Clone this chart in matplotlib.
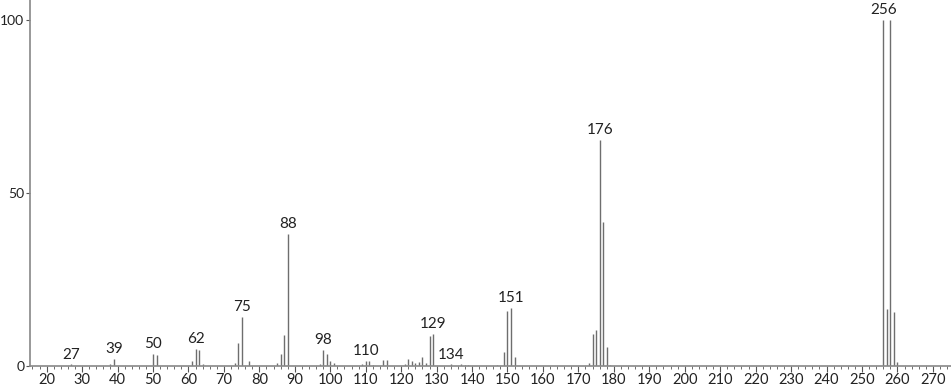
import numpy as np
import matplotlib
matplotlib.use('Agg')
import matplotlib.pyplot as plt
from matplotlib.ticker import MultipleLocator

# m/z and relative intensity
mz = [27, 38, 39, 50, 51, 61, 62, 63, 64, 73, 74, 75, 77,
      85, 86, 87, 88, 97, 98, 99, 100, 101,
      109, 110, 111, 112, 115, 116, 121, 122, 123, 124, 125, 126, 127, 128, 129,
      134, 137, 138, 139, 147, 149, 150, 151, 152,
      173, 174, 175, 176, 177, 178, 179,
      256, 257, 258, 259, 260]
intensity = [0.5, 0.5, 2.0, 3.5, 3.3, 1.5, 4.9, 4.5, 0.5, 0.8, 6.6, 14.2, 1.5,
             1.0, 3.5, 9.0, 38.2, 0.5, 4.6, 3.4, 1.5, 1.0,
             0.5, 1.5, 1.5, 0.3, 1.8, 1.8, 0.5, 2.0, 1.5, 0.8, 1.2, 2.5, 1.0, 8.7, 9.2,
             0.5, 0.7, 0.4, 0.3, 0.4, 4.0, 16.0, 16.8, 2.5,
             1.0, 9.2, 10.4, 65.3, 41.6, 5.5, 0.3,
             99.8, 16.5, 100.0, 15.6, 1.2]
labelled = [27, 39, 50, 62, 75, 88, 98, 110, 129, 134, 151, 176, 256]

fam = ['Lato', 'DejaVu Sans']

fig = plt.figure(figsize=(9.51, 3.89), dpi=100)
ax = fig.add_axes([0.0315, 0.059, 0.9685, 0.941])

ax.vlines(mz, 0, intensity, color='#6e6e6e', linewidth=1.0)

lookup = dict(zip(mz, intensity))
for m in labelled:
    h = lookup[m]
    if m == 256:
        h = max(lookup[256], lookup[258])
    ax.annotate(str(m), (m, h), xytext=(0, 2), textcoords='offset points',
                ha='center', va='bottom', fontsize=11, color='#222222',
                family=fam)

ax.set_xlim(15.3, 275.1)
ax.set_ylim(0, 105.7)
ax.xaxis.set_major_locator(MultipleLocator(10))
ax.xaxis.set_minor_locator(MultipleLocator(2))
ax.set_yticks([0, 50, 100])
ax.set_xticks(np.arange(20, 271, 10))

for s in ['top', 'right']:
    ax.spines[s].set_visible(False)
for s in ['left', 'bottom']:
    ax.spines[s].set_color('#888888')
    ax.spines[s].set_linewidth(1.2)

ax.tick_params(axis='both', which='major', length=4, color='#555555',
               labelsize=10.5, labelcolor='#222222', pad=1)
ax.tick_params(axis='y', labelsize=10, length=3)
ax.tick_params(axis='x', which='minor', length=2.5, color='#555555')
for lab in ax.get_xticklabels() + ax.get_yticklabels():
    lab.set_family(fam)

fig.savefig('out.png', dpi=100)
